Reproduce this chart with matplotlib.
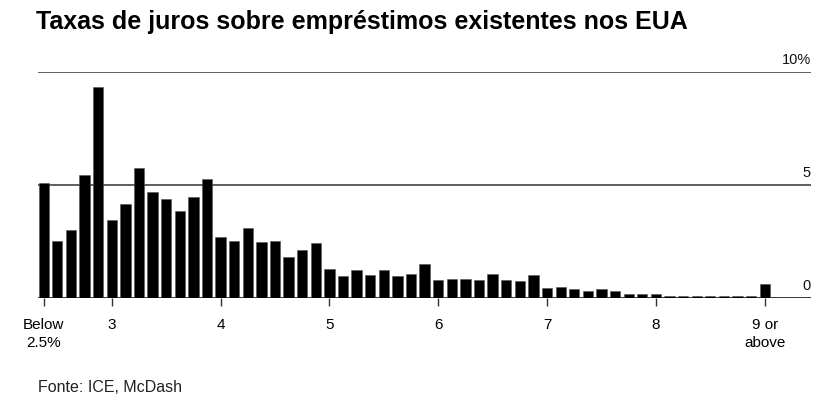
import numpy as np
import matplotlib
matplotlib.use("Agg")
import matplotlib.pyplot as plt

plt.rcParams['font.family'] = ['Liberation Sans', 'DejaVu Sans']

# share of loans (%) by interest-rate bucket, 0.125 pt steps
faixas = ["Below 2.5%"] + [f"{2.5 + 0.125 * i:.3f}" for i in range(52)] + ["9 or above"]
valores = [5.10, 2.52, 3.03, 5.45, 9.32, 3.47, 4.17, 5.77, 4.70, 4.39,
           3.86, 4.48, 5.25, 2.72, 2.52, 3.09, 2.46, 2.51, 1.82, 2.14,
           2.45, 1.28, 0.98, 1.25, 1.02, 1.25, 0.98, 1.05, 1.50, 0.79,
           0.83, 0.83, 0.80, 1.07, 0.80, 0.74, 1.02, 0.44, 0.50, 0.41,
           0.31, 0.38, 0.30, 0.18, 0.18, 0.16, 0.11, 0.10, 0.10, 0.10,
           0.08, 0.09, 0.10, 0.62]
tick_pos = [0, 5, 13, 21, 29, 37, 45, 53]
tick_labels = ["Below\n2.5%", "3", "4", "5", "6", "7", "8", "9 or\nabove"]
y_ticks = [0, 5, 10]
y_labels = ["0", "5", "10%"]

W, H = 837, 406
fig = plt.figure(figsize=(W / 100, H / 100), dpi=100)
ax = fig.add_axes([38 / W, (H - 299) / H, (811 - 38) / W, (299 - 73) / H])

x = np.arange(len(valores))
ax.bar(x, valores, width=0.76, color="black", edgecolor="#555555", linewidth=0.4, zorder=3)

ax.set_xlim(-0.42, 56.4)
ax.set_ylim(0, 10)

for yv in y_ticks[1:]:
    ax.axhline(yv, color="#333333", lw=1.1, zorder=1)
ax.axhline(0, color="black", lw=1.1, zorder=2)

for yv, lab in zip(y_ticks, y_labels):
    ax.text(1.0, yv + 0.25, lab, transform=ax.get_yaxis_transform(), ha="right", va="bottom",
            fontsize=10.5, color="#111111")

for s in ax.spines.values():
    s.set_visible(False)
ax.set_yticks([])
ax.set_xticks(tick_pos)
ax.set_xticklabels(tick_labels, fontsize=11, linespacing=1.3)
ax.tick_params(axis="x", length=6, width=1, color="#333333", pad=8)

fig.text(36 / W, 1 - 29 / H, "Taxas de juros sobre empréstimos existentes nos EUA",
         fontsize=18, fontweight="bold", ha="left", va="baseline")
fig.text(38 / W, 1 - 392 / H, "Fonte: ICE, McDash", fontsize=11.5, color="#222222",
         ha="left", va="baseline")

fig.savefig("out.png", dpi=100)
